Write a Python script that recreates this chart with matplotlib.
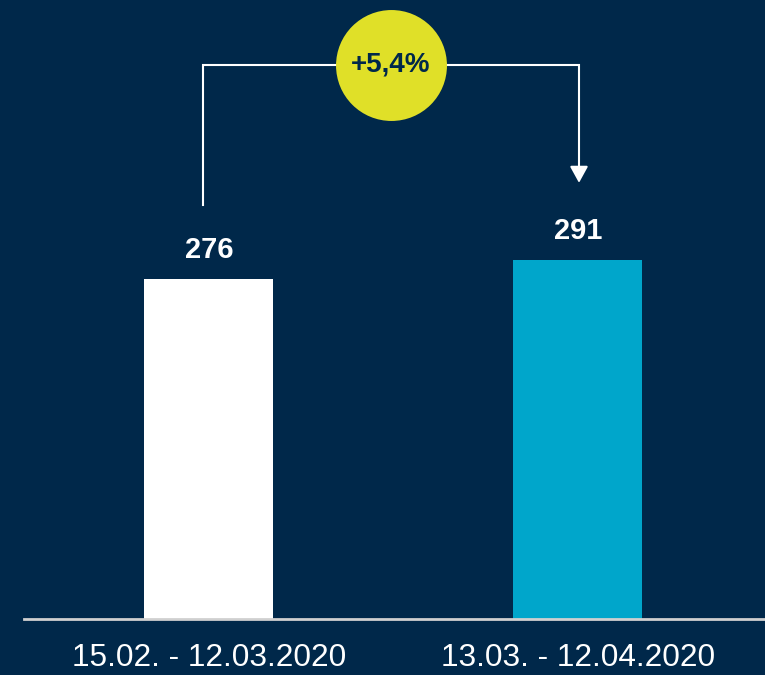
import matplotlib.pyplot as plt

periods = ['15.02. - 12.03.2020', '13.03. - 12.04.2020']
values = [276, 291]
change_label = '+5,4%'

navy = '#00284a'
bar_colors = ['#ffffff', '#00a6cb']
badge_color = '#e0e028'

plt.rcParams['font.family'] = ['Liberation Sans', 'DejaVu Sans']

fig = plt.figure(figsize=(7.65, 6.75), dpi=100, facecolor=navy)
ax = fig.add_axes([0, 0, 1, 1])
ax.set_facecolor(navy)

x = [0, 1]
ax.bar(x, values, width=0.35, color=bar_colors, zorder=2)

ax.set_xlim(-0.566, 1.507)
ax.set_ylim(-45.5, 502.4)
ax.axis('off')

# baseline
ax.axhline(0, xmin=0.031, xmax=1, color='#d0d0d0', lw=2, zorder=3)

# value labels above bars
for xi, v in zip(x, values):
    ax.annotate(str(v), (xi, v), xytext=(0, 21), textcoords='offset points',
                ha='center', va='center', fontsize=21, fontweight='bold',
                color='white')

# period labels under baseline
for xi, p in zip(x, periods):
    ax.annotate(p, (xi, 0), xytext=(0, -28), textcoords='offset points',
                ha='center', va='center', fontsize=22.8, color='white')

# connector from first bar to second bar
x_left, x_right = x[0] - 0.016, x[1] + 0.003
y_top = 449.5
y_start = values[0] + 60
y_tip = values[1] + 63
ax.plot([x_left, x_left, x_right, x_right], [y_start, y_top, y_top, y_tip + 10],
        color='white', lw=1.5, solid_joinstyle='miter', zorder=3)
ax.annotate('', xy=(x_right, y_tip), xytext=(x_right, y_tip + 13),
            arrowprops=dict(arrowstyle='-|>,head_length=1.0,head_width=0.55',
                            color='white', lw=1.5, shrinkA=0, shrinkB=0),
            zorder=3)

# growth badge
bx, by = 0.493, 450
ax.scatter([bx], [by], s=6380, color=badge_color, zorder=4, linewidths=0)
ax.text(bx, by, change_label, ha='center', va='center', fontsize=20,
        fontweight='bold', color=navy, zorder=5)

fig.savefig('out.png', dpi=100, facecolor=navy)
